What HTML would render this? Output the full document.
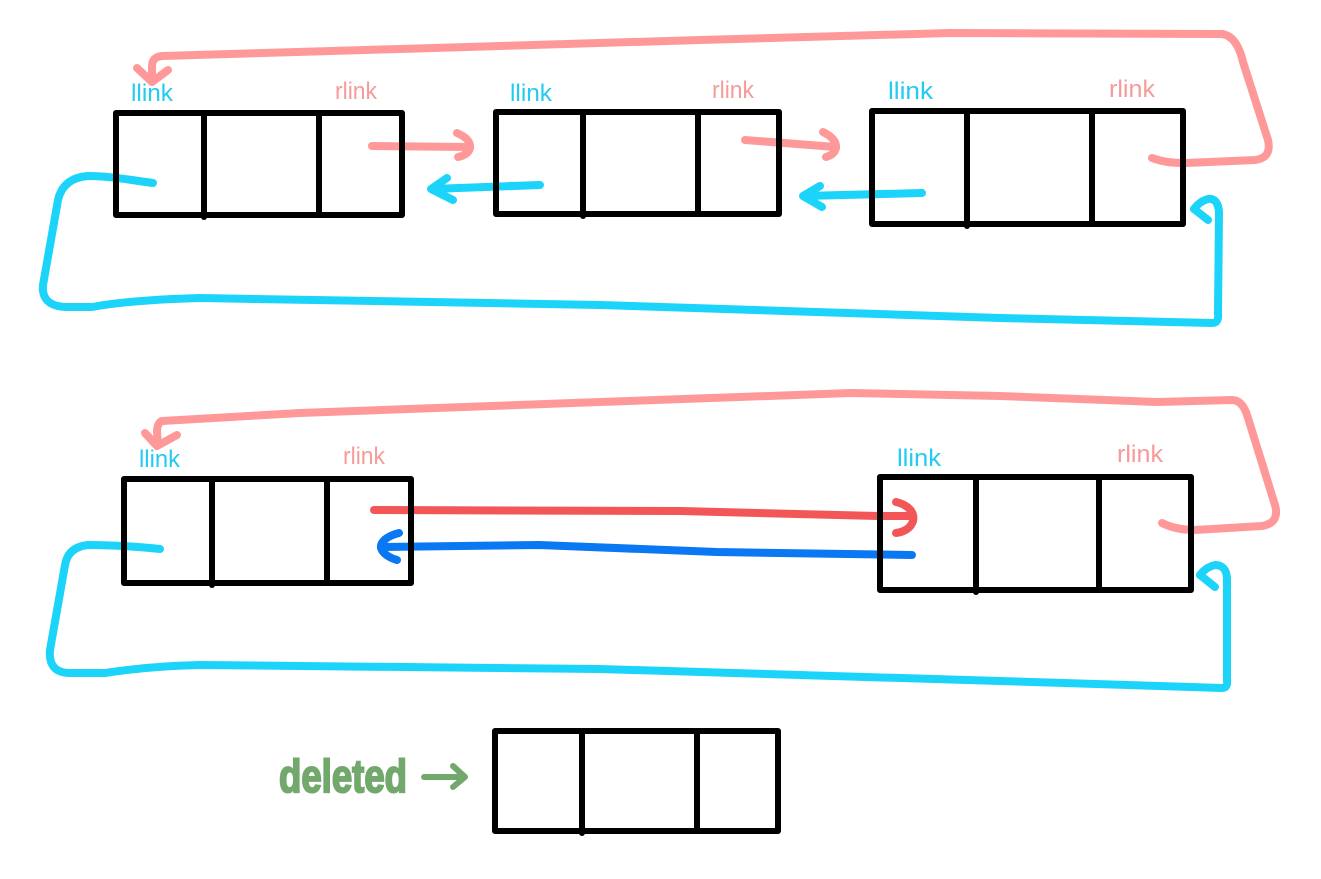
<!DOCTYPE html>
<html>
<head>
<meta charset="utf-8">
<style>
html,body{margin:0;padding:0;background:#fff;}
svg{display:block;}
.box{fill:none;stroke:#000;stroke-width:6;stroke-linejoin:round;stroke-linecap:round;}
.c{fill:none;stroke-width:8;stroke-linecap:round;stroke-linejoin:round;}
.sal{stroke:#ff9999;}
.cy{stroke:#1cd4f9;}
.red{stroke:#f35656;}
.blu{stroke:#0a78f2;}
.lbl{font-family:"Liberation Sans",sans-serif;font-size:24px;}
</style>
</head>
<body>
<svg width="1321" height="879" viewBox="0 0 1321 879" xmlns="http://www.w3.org/2000/svg">
<rect width="1321" height="879" fill="#fff"/>

<!-- Row 1 connectors -->
<path class="c sal" d="M1152,158 C1163,162 1172,163 1186,163 L1255,160 Q1272,158 1268,140 L1243,62 Q1237,36 1222,34 L950,33 L700,40 L400,49 L162,56 Q152,57 152,66 L152,81"/>
<path class="c sal" d="M137,68 L152,82 L168,70"/>

<path class="c cy" d="M153,183 C130,180 110,176 88,176 Q63,178 58,200 L43,285 Q41,306 66,307 L92,307 Q130,300 200,298 L600,305 L1000,318 L1212,323 Q1219,323 1218,314 L1219,212 Q1218,198 1208,199 Q1200,201 1194,209"/>
<path class="c cy" d="M1194,209 L1208,220"/>

<path class="c sal" d="M372,146 L470,147"/>
<path class="c sal" d="M457,133 Q471,139 470,148 Q468,155 458,157"/>
<path class="c sal" d="M745,140 L836,147"/>
<path class="c sal" d="M823,132 Q837,139 836,148 Q834,155 826,157"/>

<path class="c cy" d="M540,185 L432,189"/>
<path class="c cy" d="M447,178 L431,189 L453,200"/>
<path class="c cy" d="M922,193 L804,196"/>
<path class="c cy" d="M820,186 L803,196 L822,207"/>

<!-- Row 2 connectors -->
<path class="c sal" d="M1162,523 Q1176,530 1195,530 L1262,526 Q1280,523 1275,505 L1248,418 Q1243,400 1232,400 L1157,402 L1000,396 L851,393 L600,402 L300,413 L162,421 Q157,423 157,432 L158,445"/>
<path class="c sal" d="M145,433 L157,446 L177,435"/>

<path class="c cy" d="M160,549 C140,547 115,545 88,545 Q68,547 65,565 L50,650 Q48,673 70,673 L105,673 Q150,666 200,665 L600,669 L1000,681 L1222,688 Q1228,688 1227,680 L1227,578 Q1226,565 1215,565 Q1206,567 1200,575"/>
<path class="c cy" d="M1200,575 L1215,587"/>

<path class="c red" d="M374,510 L680,511 L878,516 L910,516"/>
<path class="c red" d="M896,502 C909,505 915,513 913,521 C911,528 904,532 896,533"/>

<path class="c blu" d="M912,555 L717,552 L539,545 L382,547"/>
<path class="c blu" d="M399,533 C387,536 380,542 381,548 C383,554 390,558 397,560"/>

<!-- Boxes row 1 -->
<rect class="box" x="116" y="113" width="286" height="102"/>
<line class="box" x1="204" y1="113" x2="204" y2="217"/>
<line class="box" x1="319" y1="113" x2="319" y2="215"/>

<rect class="box" x="496" y="112" width="283" height="102"/>
<line class="box" x1="583" y1="112" x2="583" y2="216"/>
<line class="box" x1="698" y1="112" x2="698" y2="214"/>

<rect class="box" x="872" y="111" width="311" height="113"/>
<line class="box" x1="967" y1="111" x2="967" y2="226"/>
<line class="box" x1="1092" y1="111" x2="1092" y2="224"/>

<!-- Boxes row 2 -->
<rect class="box" x="124" y="479" width="287" height="104"/>
<line class="box" x1="212" y1="479" x2="212" y2="585"/>
<line class="box" x1="327" y1="479" x2="327" y2="583"/>

<rect class="box" x="880" y="477" width="311" height="113"/>
<line class="box" x1="976" y1="477" x2="976" y2="592"/>
<line class="box" x1="1099" y1="477" x2="1099" y2="590"/>

<!-- deleted box -->
<rect class="box" x="495" y="731" width="283" height="100"/>
<line class="box" x1="582" y1="731" x2="582" y2="833"/>
<line class="box" x1="697" y1="731" x2="697" y2="831"/>

<!-- Labels row 1 -->
<text class="lbl" x="131" y="101" fill="#22cbef" textLength="42" lengthAdjust="spacingAndGlyphs">llink</text>
<text class="lbl" x="335" y="99" fill="#f79a9a" textLength="42" lengthAdjust="spacingAndGlyphs">rlink</text>
<text class="lbl" x="510" y="101" fill="#22cbef" textLength="42" lengthAdjust="spacingAndGlyphs">llink</text>
<text class="lbl" x="712" y="98" fill="#f79a9a" textLength="42" lengthAdjust="spacingAndGlyphs">rlink</text>
<text class="lbl" x="888" y="99" fill="#22cbef" textLength="45" lengthAdjust="spacingAndGlyphs">llink</text>
<text class="lbl" x="1109" y="97" fill="#f79a9a" textLength="46" lengthAdjust="spacingAndGlyphs">rlink</text>

<!-- Labels row 2 -->
<text class="lbl" x="139" y="467" fill="#22cbef" textLength="41" lengthAdjust="spacingAndGlyphs">llink</text>
<text class="lbl" x="343" y="464" fill="#f79a9a" textLength="42" lengthAdjust="spacingAndGlyphs">rlink</text>
<text class="lbl" x="897" y="466" fill="#22cbef" textLength="44" lengthAdjust="spacingAndGlyphs">llink</text>
<text class="lbl" x="1117" y="462" fill="#f79a9a" textLength="46" lengthAdjust="spacingAndGlyphs">rlink</text>

<!-- deleted label -->
<text x="279" y="792" fill="#72a86c" stroke="#72a86c" stroke-width="2" font-family="Liberation Sans, sans-serif" font-weight="bold" font-size="46" textLength="128" lengthAdjust="spacingAndGlyphs">deleted</text>
<path d="M424,777 L462,777 M453,766 L465,777 L453,787" fill="none" stroke="#72a86c" stroke-width="6" stroke-linecap="round" stroke-linejoin="round"/>
</svg>
</body>
</html>
